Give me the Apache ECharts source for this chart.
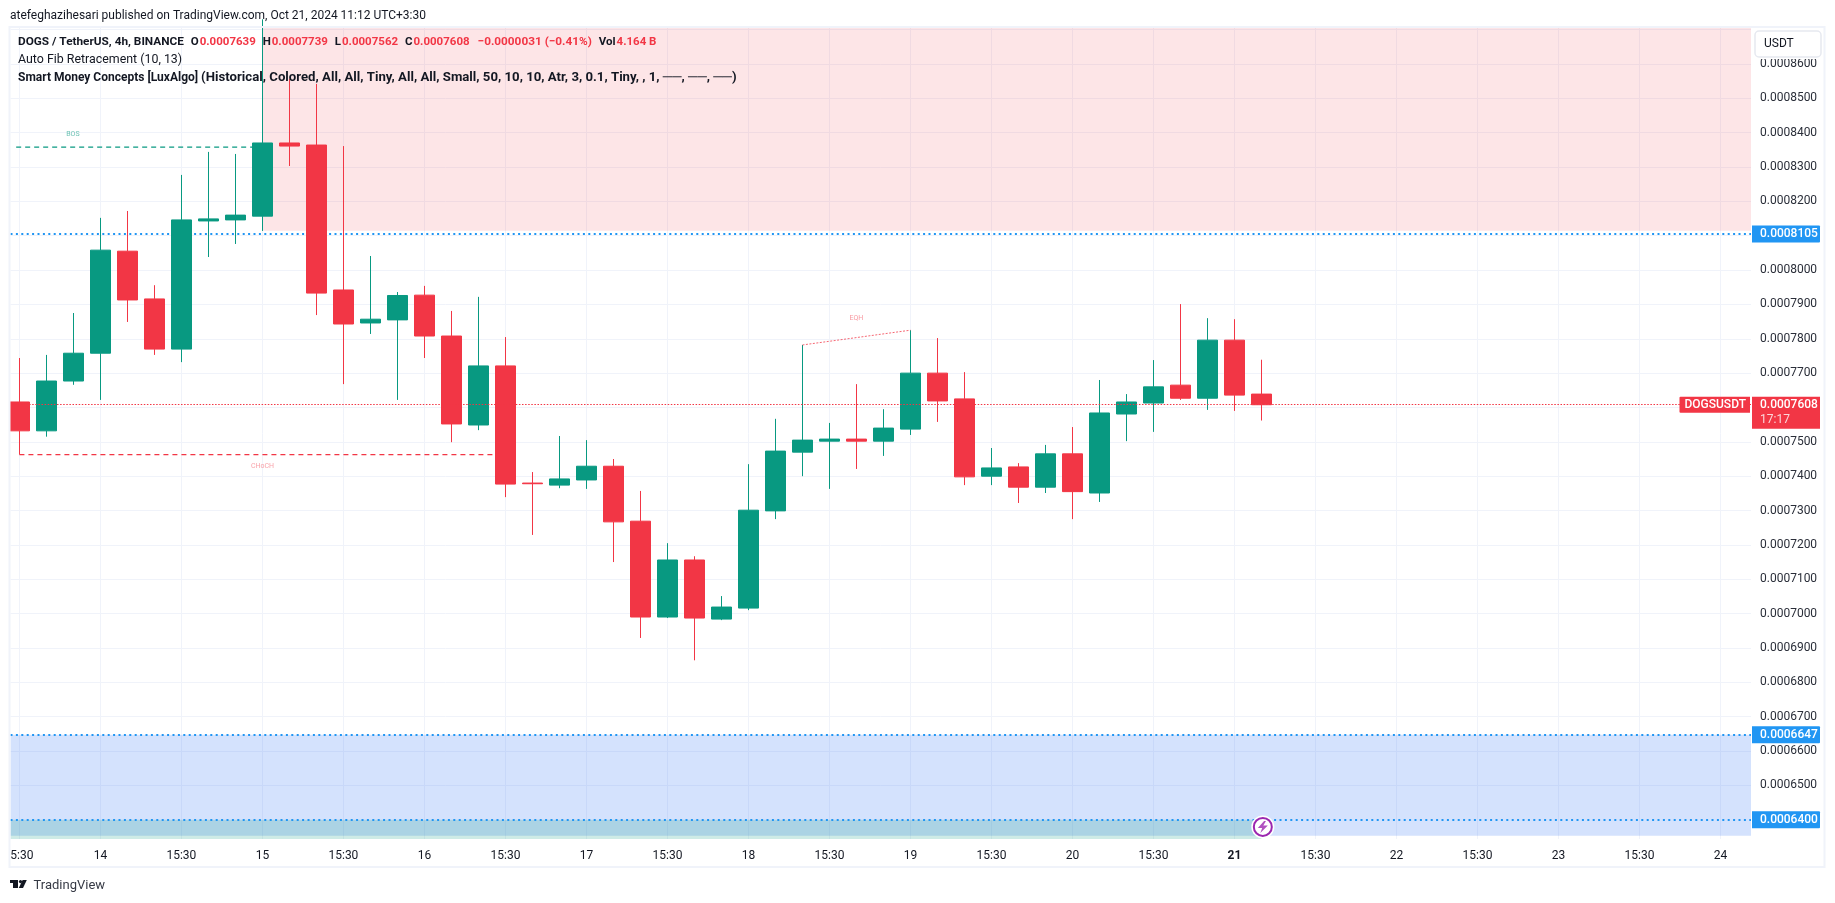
<!DOCTYPE html>
<html>
<head>
<meta charset="utf-8">
<style>html,body{margin:0;padding:0;background:#fff}#c{width:1835px;height:903px}</style>
<script src="https://cdn.jsdelivr.net/npm/echarts@6/dist/echarts.min.js"></script>
</head>
<body>
<div id="c"></div>
<script>
const opens  = [0.0007616,0.0007532,0.0007677,0.0007758,0.0008055,0.0007916,0.0007770,0.0008143,0.0008146,0.0008157,0.0008370,0.0008364,0.0007942,0.0007846,0.0007855,0.0007927,0.0007808,0.0007549,0.0007721,0.0007380,0.0007374,0.0007389,0.0007429,0.0007269,0.0006990,0.0007156,0.0006984,0.0007016,0.0007299,0.0007470,0.0007502,0.0007508,0.0007502,0.0007537,0.0007700,0.0007625,0.0007400,0.0007427,0.0007368,0.0007465,0.0007351,0.0007581,0.0007613,0.0007665,0.0007627,0.0007796,0.0007639];
const closes = [0.0007532,0.0007677,0.0007758,0.0008058,0.0007913,0.0007770,0.0008146,0.0008149,0.0008160,0.0008370,0.0008361,0.0007933,0.0007843,0.0007857,0.0007926,0.0007808,0.0007552,0.0007721,0.0007377,0.0007378,0.0007392,0.0007429,0.0007267,0.0006990,0.0007156,0.0006987,0.0007019,0.0007301,0.0007473,0.0007505,0.0007508,0.0007502,0.0007540,0.0007700,0.0007619,0.0007398,0.0007424,0.0007368,0.0007465,0.0007355,0.0007584,0.0007616,0.0007660,0.0007627,0.0007796,0.0007636,0.0007608];
const lows   = [0.0007463,0.0007515,0.0007666,0.0007622,0.0007849,0.0007753,0.0007732,0.0008038,0.0008076,0.0008114,0.0008303,0.0007869,0.0007668,0.0007814,0.0007622,0.0007744,0.0007499,0.0007534,0.0007339,0.0007229,0.0007365,0.0007363,0.0007150,0.0006929,0.0006987,0.0006864,0.0006981,0.0007010,0.0007275,0.0007400,0.0007363,0.0007421,0.0007459,0.0007520,0.0007558,0.0007374,0.0007374,0.0007322,0.0007351,0.0007275,0.0007325,0.0007502,0.0007529,0.0007622,0.0007593,0.0007590,0.0007562];
const highs  = [0.0007744,0.0007753,0.0007875,0.0008152,0.0008172,0.0007956,0.0008277,0.0008344,0.0008338,0.0008730,0.0008556,0.0008542,0.0008361,0.0008041,0.0007936,0.0007954,0.0007881,0.0007922,0.0007805,0.0007412,0.0007517,0.0007505,0.0007450,0.0007357,0.0007205,0.0007167,0.0007051,0.0007435,0.0007567,0.0007782,0.0007555,0.0007668,0.0007595,0.0007825,0.0007802,0.0007703,0.0007482,0.0007438,0.0007491,0.0007543,0.0007680,0.0007639,0.0007738,0.0007901,0.0007860,0.0007857,0.0007739];
const xTickIndex = [0,3,6,9,12,15,18,21,24,27,30,33,36,39,42,45,48,51,54,57,60,63];
const xTickLabels = ['5:30','14','15:30','15','15:30','16','15:30','17','15:30','18','15:30','19','15:30','20','15:30','21','15:30','22','15:30','23','15:30','24'];
const yGridTicks = [0.00065,0.00066,0.00067,0.00068,0.00069,0.0007,0.00071,0.00072,0.00073,0.00074,0.00075,0.00076,0.00077,0.00078,0.00079,0.0008,0.00081,0.00082,0.00083,0.00084,0.00085,0.00086,0.00087];
const yLabelTicks = [0.00065,0.00066,0.00067,0.00068,0.00069,0.0007,0.00071,0.00072,0.00073,0.00074,0.00075,0.00076,0.00077,0.00078,0.00079,0.0008,0.00082,0.00083,0.00084,0.00085,0.00086];
const lastPrice = 0.0007608;
const fibHigh = 0.0008105, fibMid = 0.0006647, fibLow = 0.0006400;
const bosLevel = 0.0008358, chochLevel = 0.0007463;
const eqhPoints = [[29,0.0007782],[33,0.0007825]];
const xMin = -0.33, xMax = 64.13, yMin = 0.00063438, yMax = 0.00087047;
const redZone = [9, 0.00081146, yMax];
const blueZoneBottom = 0.00063530;
const tealZoneEnd = 46;

const RED='#f23645', GREEN='#089981', BLUE='#2196f3', INK='#131722';
const FONT='Roboto, "Liberation Sans", sans-serif';
const candles = opens.map((o,i)=>[i,o,closes[i],lows[i],highs[i]]);

function badge(value, text){
  return {
    yAxis:value,
    label:{show:true,position:'end',distance:1,formatter:text,backgroundColor:BLUE,color:'#fff',
      fontFamily:FONT,fontSize:12,fontWeight:500,padding:[2,8,2,8],width:52,height:13,lineHeight:13,align:'left',verticalAlign:'middle',borderRadius:[0,1,1,0]}
  };
}
const blueLineStyle={color:BLUE,type:[2,3.4],width:2};

const option={
  animation:false,
  backgroundColor:'#fff',
  textStyle:{fontFamily:FONT},
  title:[
    {left:10,top:9,padding:0,text:'atefeghazihesari published on TradingView.com, Oct 21, 2024 11:12 UTC+3:30',
      textStyle:{fontFamily:FONT,fontSize:12,fontWeight:400,color:INK,lineHeight:14}},
    {left:18,top:36,padding:0,text:'{h|DOGS / TetherUS, 4h, BINANCE}{k| O}{v|0.0007639}{k| H}{v|0.0007739}{k| L}{v|0.0007562}{k| C}{v|0.0007608}{m|−0.0000031 (−0.41%)}{k| Vol}{v|4.164 B}',
      textStyle:{rich:{
        h:{fontFamily:FONT,fontSize:11.8,color:INK},
        k:{fontFamily:FONT,fontSize:11.5,color:INK,padding:[0,1,0,4]},
        v:{fontFamily:FONT,fontSize:11.5,color:RED},
        m:{fontFamily:FONT,fontSize:11.8,color:RED,padding:[0,0,0,8]}}}},
    {left:18,top:54,padding:0,text:'Auto Fib Retracement (10, 13)',textStyle:{fontFamily:FONT,fontSize:12.4,fontWeight:400,color:INK}},
    {left:18,top:71,padding:0,text:'{a|Smart Money Concepts [LuxAlgo] }{b|(Historical, Colored, All, All, Tiny, All, All, Small, 50, 10, 10, Atr, 3, 0.1, Tiny, , 1, ──, ──, ──)}',
      textStyle:{rich:{a:{fontFamily:FONT,fontSize:12,color:INK},b:{fontFamily:FONT,fontSize:13.2,color:INK}}}},
    {left:33.5,top:879,padding:0,text:'TradingView',textStyle:{fontFamily:FONT,fontSize:13,fontWeight:400,color:'#363a45'}}
  ],
  grid:{left:10.5,top:28,width:1740.5,height:811,containLabel:false},
  xAxis:{type:'value',min:xMin,max:xMax,
    axisLine:{show:false},
    axisTick:{show:false,customValues:xTickIndex},
    splitLine:{show:true,lineStyle:{color:'#f0f3fa',width:1}},
    axisLabel:{show:true,customValues:xTickIndex,margin:11,hideOverlap:false,showMinLabel:true,showMaxLabel:true,
      color:INK,fontFamily:FONT,fontSize:12,
      formatter:v=>{const k=xTickIndex.indexOf(Math.round(v));const t=xTickLabels[k];
        if(k===0)return '{clip|'+t+'}';
        if(t==='21')return '{bold|'+t+'}';return t;},
      rich:{clip:{padding:[0,0,0,5],color:INK,fontSize:12,fontFamily:FONT},bold:{fontWeight:700,color:INK,fontSize:12,fontFamily:FONT}}}
  },
  yAxis:{type:'value',position:'right',min:yMin,max:yMax,scale:true,
    axisLine:{show:false},
    axisTick:{show:false,customValues:yGridTicks},
    splitLine:{show:true,lineStyle:{color:'#f0f3fa',width:1}},
    axisLabel:{show:true,customValues:yLabelTicks,margin:9,hideOverlap:false,showMinLabel:true,showMaxLabel:true,color:'#2a2e39',fontFamily:FONT,fontSize:12,
      padding:[2,0,0,0],formatter:v=>v.toFixed(7)}
  },
  series:[
    {type:'line',name:'zones',data:[],z:1,silent:true,
      markArea:{silent:true,z:1,data:[
        [{xAxis:redZone[0],yAxis:redZone[1],itemStyle:{color:'rgba(242,54,69,0.13)'}},{xAxis:xMax,yAxis:redZone[2]}],
        [{xAxis:xMin,yAxis:fibMid,itemStyle:{color:'rgba(38,110,245,0.2)'}},{xAxis:xMax,yAxis:blueZoneBottom}],
        [{xAxis:xMin,yAxis:fibLow,itemStyle:{color:'rgba(8,153,129,0.2)'}},{xAxis:tealZoneEnd,yAxis:yMin}]
      ]},
      markLine:{silent:true,symbol:'none',z:1,data:[
        {yAxis:blueZoneBottom,lineStyle:{color:'#a9c5f7',type:'solid',width:1},label:{show:false}}
      ]}
    },
    {type:'line',name:'fib',data:[],z:2,silent:true,
      markLine:{silent:true,symbol:'none',z:2,precision:8,lineStyle:blueLineStyle,data:[
        badge(fibHigh,'0.0008105'),badge(fibMid,'0.0006647'),badge(fibLow,'0.0006400')
      ]}
    },
    {type:'candlestick',name:'DOGSUSDT',data:candles,encode:{x:0,y:[1,2,3,4]},barWidth:20,z:3,clip:true,silent:true,
      itemStyle:{color:GREEN,color0:RED,borderColor:GREEN,borderColor0:RED,borderWidth:1}
    },
    {type:'line',name:'BOS',data:[[-0.12,bosLevel],[9,bosLevel]],z:4,showSymbol:false,silent:true,lineStyle:{color:GREEN,type:[5,4],width:1.2}},
    {type:'line',name:'CHoCH',data:[[0,chochLevel],[18,chochLevel]],z:2,showSymbol:false,silent:true,lineStyle:{color:RED,type:[5,4],width:1.2}},
    {type:'line',name:'EQH',data:eqhPoints,z:4,showSymbol:false,silent:true,lineStyle:{color:'rgba(242,54,69,0.75)',type:[2,1.5],width:1}},
    {type:'line',name:'CHoCHwick',data:[[0,lows[0]],[0,chochLevel]],z:3,showSymbol:false,silent:true,lineStyle:{color:RED,width:1}},
    {type:'scatter',name:'labels',symbolSize:0,z:5,silent:true,
      data:[
        {value:[1.98,0.0008395],label:{formatter:'BOS',color:'rgba(8,153,129,0.75)'}},
        {value:[9,0.000743],label:{formatter:'CHoCH',color:'rgba(242,54,69,0.6)'}},
        {value:[31,0.0007859],label:{formatter:'EQH',color:'rgba(242,54,69,0.65)'}}
      ],
      label:{show:true,position:'inside',fontFamily:FONT,fontSize:7}
    },
    {type:'line',name:'last',data:[],z:5,silent:true,
      markLine:{silent:true,symbol:'none',z:5,precision:8,data:[
        {yAxis:lastPrice,lineStyle:{color:RED,type:[1.5,1.6],width:1.2},
          label:{show:true,position:'end',distance:1,align:'left',verticalAlign:'top',offset:[0,-8],
            formatter:'{a|0.0007608}\n{b|17:17}',backgroundColor:RED,padding:[1,8,1,8],width:52,
            rich:{a:{color:'#fff',fontFamily:FONT,fontSize:12,fontWeight:500,lineHeight:15},b:{color:'#fbd5d8',fontFamily:FONT,fontSize:12,lineHeight:15}}}},
        {yAxis:lastPrice,lineStyle:{color:'rgba(0,0,0,0)',width:0},
          label:{show:true,position:'end',distance:-1,align:'right',verticalAlign:'middle',
            formatter:'DOGSUSDT',color:'#fff',backgroundColor:RED,fontFamily:FONT,fontSize:12,fontWeight:500,padding:[2,4,2,5],borderRadius:[1,0,0,1]}}
      ]}
    },
    {type:'scatter',name:'alertHalo',data:[[46.05,0.00063790]],symbol:'circle',symbolSize:23,z:6,silent:true,clip:false,
      itemStyle:{color:'#fff',opacity:1}},
    {type:'scatter',name:'alertRing',data:[[46.05,0.00063790]],symbol:'circle',symbolSize:18,z:6,silent:true,clip:false,
      itemStyle:{color:'#fff',borderColor:'#9c27b0',borderWidth:2,opacity:1}},
    {type:'scatter',name:'alertBolt',data:[[46.05,0.00063790]],symbol:'path://M6 0 L1 7 L4.5 7 L3 12 L9 4.5 L5.4 4.5 L7.5 0 Z',symbolSize:[10,12],z:7,silent:true,clip:false,
      itemStyle:{color:'#9c27b0'}}
  ],
  graphic:[
    {type:'rect',z:100,silent:true,shape:{x:0,y:840,width:10,height:26},style:{fill:'#fff'}},
    {type:'rect',z:101,silent:true,shape:{x:9.5,y:27,width:1815,height:840},style:{fill:'none',stroke:'#f0f3fa',lineWidth:2}},
    {type:'rect',z:102,silent:true,shape:{x:1752,y:29,width:71,height:30},style:{fill:'#fff'}},
    {type:'rect',z:103,silent:true,shape:{x:1755,y:31,width:66,height:26,r:4},style:{fill:'#fff',stroke:'#e6e9f0',lineWidth:1.5}},
    {type:'text',z:104,silent:true,x:1764,y:38,style:{text:'USDT',fill:INK,font:'12px '+FONT}},
    {type:'rect',z:103,silent:true,shape:{x:10,y:880,width:8,height:3},style:{fill:INK}},
    {type:'rect',z:103,silent:true,shape:{x:13,y:880,width:5,height:8},style:{fill:INK}},
    {type:'circle',z:103,silent:true,shape:{cx:20.5,cy:881.6,r:1.6},style:{fill:INK}},
    {type:'polygon',z:103,silent:true,shape:{points:[[18.8,888],[22.6,880],[26.8,880],[23,888]]},style:{fill:INK}}
  ]
};
const chart=echarts.init(document.getElementById('c'),null,{renderer:'canvas',width:1835,height:903});
chart.setOption(option);
</script>
</body>
</html>
